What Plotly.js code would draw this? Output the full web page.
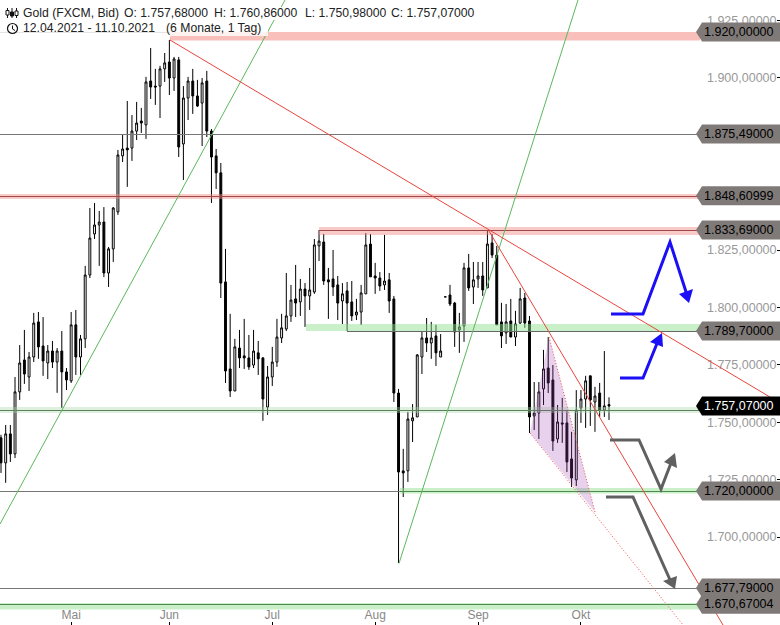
<!DOCTYPE html>
<html><head><meta charset="utf-8">
<script src="https://cdn.plot.ly/plotly-3.0.1.min.js"></script>
<style>html,body{margin:0;padding:0;background:#fff;overflow:hidden}</style>
</head><body><div id="chart" style="width:780px;height:625px"></div>
<script>
const highs=[1744.5,1748.8,1748.8,1769.7,1783.6,1790.2,1780.6,1797.6,1798.0,1795.8,1783.6,1785.4,1782.3,1789.7,1773.6,1798.0,1798.9,1788.0,1818.1,1843.3,1845.5,1842.0,1843.7,1826.3,1843.7,1868.6,1875.1,1889.9,1883.8,1889.5,1886.9,1900.4,1913.0,1903.9,1905.2,1910.8,1916.5,1909.1,1909.1,1896.4,1900.4,1903.9,1899.1,1899.9,1903.0,1877.7,1869.0,1862.9,1825.5,1797.2,1786.3,1790.2,1795.0,1788.0,1790.2,1785.4,1778.4,1774.5,1782.8,1795.0,1797.2,1815.0,1809.8,1818.5,1812.4,1810.6,1817.2,1829.8,1833.7,1832.0,1817.2,1825.0,1813.7,1810.6,1811.1,1811.5,1803.7,1809.8,1832.4,1832.0,1819.4,1815.4,1831.6,1815.0,1805.0,1764.5,1738.4,1754.5,1757.9,1779.7,1789.3,1795.4,1793.7,1792.4,1788.4,1804.6,1809.8,1802.4,1797.6,1819.4,1823.3,1819.8,1819.8,1819.8,1833.7,1832.0,1826.8,1802.0,1801.5,1803.7,1798.5,1808.5,1806.3,1796.3,1767.5,1767.5,1781.5,1787.1,1774.9,1757.5,1760.6,1755.3,1745.8,1764.0,1764.0,1770.2,1770.2,1765.4,1767.1,1781.0,1760.86];
const opens=[1743.2,1732.3,1744.9,1736.2,1763.2,1777.1,1769.7,1778.4,1793.7,1783.2,1775.8,1781.0,1776.2,1781.0,1771.9,1768.0,1792.4,1778.4,1786.3,1814.1,1832.0,1835.9,1837.2,1815.0,1825.5,1841.6,1866.0,1869.4,1869.4,1876.8,1881.2,1879.5,1898.6,1896.4,1896.4,1903.9,1906.9,1899.9,1907.8,1871.2,1891.2,1898.6,1892.1,1889.0,1898.6,1876.8,1866.0,1858.6,1811.1,1773.2,1763.6,1782.3,1778.9,1778.0,1774.9,1780.2,1778.0,1756.6,1769.7,1776.2,1786.7,1790.6,1796.3,1803.7,1802.4,1808.0,1805.0,1806.7,1826.8,1828.5,1812.0,1812.4,1809.8,1802.8,1807.2,1802.4,1796.7,1798.0,1805.9,1827.6,1813.7,1812.8,1809.8,1812.0,1803.7,1762.7,1728.8,1728.8,1750.6,1752.3,1778.4,1786.7,1784.5,1787.6,1778.4,1804.6,1805.4,1801.9,1790.2,1791.9,1817.2,1808.9,1812.4,1813.7,1808.5,1828.1,1822.8,1793.7,1788.9,1794.1,1787.1,1793.2,1804.1,1794.1,1752.7,1754.0,1764.5,1773.6,1768.4,1742.7,1749.7,1749.7,1734.0,1724.9,1756.2,1760.1,1770.2,1758.8,1762.7,1755.3,1757.68];
const lows=[1727.9,1723.6,1732.7,1734.4,1759.7,1766.7,1763.6,1776.2,1777.6,1770.2,1768.8,1773.6,1762.8,1756.2,1764.0,1767.1,1770.6,1770.6,1782.3,1812.8,1829.8,1818.1,1813.2,1808.9,1819.8,1840.3,1863.3,1852.5,1863.8,1872.9,1876.0,1873.4,1890.8,1888.2,1882.5,1898.2,1892.5,1894.3,1865.5,1855.5,1881.6,1884.3,1887.3,1870.3,1874.2,1845.5,1851.6,1804.1,1767.1,1761.0,1763.6,1773.6,1773.2,1772.8,1773.6,1770.6,1750.6,1753.2,1765.8,1774.1,1784.5,1789.7,1793.7,1795.8,1796.3,1791.5,1798.9,1805.9,1820.2,1809.8,1795.0,1805.0,1794.5,1792.8,1789.7,1794.1,1794.5,1792.4,1805.9,1813.3,1805.9,1807.2,1807.6,1797.6,1758.8,1688.7,1717.4,1724.0,1741.4,1752.3,1771.0,1780.6,1777.6,1774.5,1778.4,1804.6,1800.6,1782.8,1780.2,1785.0,1807.2,1801.5,1808.5,1805.0,1808.5,1821.5,1792.4,1782.3,1784.1,1787.1,1783.2,1792.8,1791.1,1745.3,1746.6,1742.7,1757.5,1762.7,1737.5,1741.0,1741.0,1728.3,1721.8,1722.2,1749.7,1747.5,1748.4,1745.8,1752.3,1752.3,1750.98];
const closes=[1732.3,1744.9,1736.2,1763.2,1775.8,1771.0,1778.4,1793.2,1782.8,1776.7,1781.0,1776.2,1781.0,1771.9,1768.4,1792.4,1778.4,1786.3,1814.1,1830.2,1835.9,1837.2,1815.0,1825.5,1843.3,1866.4,1869.0,1868.6,1876.8,1880.3,1880.3,1898.2,1896.0,1896.0,1903.9,1906.5,1899.9,1908.2,1869.9,1891.2,1898.6,1892.1,1887.7,1897.8,1876.8,1865.5,1858.6,1810.6,1772.3,1763.6,1782.8,1778.0,1778.0,1774.1,1781.0,1777.6,1760.1,1769.7,1776.2,1787.1,1791.1,1796.3,1803.2,1801.9,1808.0,1805.0,1807.6,1827.2,1828.9,1811.5,1811.1,1808.9,1801.9,1805.9,1801.9,1796.3,1798.0,1806.3,1827.2,1813.3,1812.8,1809.3,1811.5,1802.8,1762.7,1728.3,1727.9,1751.4,1751.9,1779.3,1786.7,1784.5,1786.7,1780.2,1781.0,1804.6,1801.5,1789.3,1791.5,1817.2,1808.5,1812.0,1813.7,1807.6,1827.6,1822.8,1792.4,1787.6,1793.7,1787.1,1792.8,1803.7,1793.2,1752.3,1754.0,1763.2,1773.2,1767.1,1741.8,1750.1,1749.2,1732.7,1725.7,1755.3,1760.1,1768.0,1759.7,1761.4,1755.3,1757.1,1757.07];

const monthIndex=[15,36,58,80,102,124];
const monthLabels=["Mai","Jun","Jul","Aug","Sep","Okt"];
const priceTicks=[1925,1900,1825,1800,1775,1750,1725,1700];
const tagLevels=[1920,1875.49,1848.60999,1833.69,1789.7,1720,1677.79,1670.67004,1757.07];

const fmt=v=>{const s=v.toFixed(5).replace('.',',');const p=s.split(',');
  return p[0].replace(/\B(?=(\d{3})+$)/g,'.')+','+p[1];};
const W=780,H=625,STEP=4.677,PXU=2.296,TOP=1933.89;
const X=p=>(p-1)/STEP, Y=p=>TOP-p/PXU, PX=p=>p/W, PY=p=>1-p/H;

const shapes=[];
const dataRect=(x0,x1,y0,y1,fill,op)=>shapes.push({type:'rect',layer:'above',xref:'paper',yref:'paper',x0:PX(x0),x1:PX(x1),y0:PY(y0),y1:PY(y1),fillcolor:fill,opacity:op===undefined?1:op,line:{width:0}});
const seg=(pts,color,w,dash,op)=>shapes.push({type:'path',layer:'above',xref:'x',yref:'y',
  path:pts.map((p,i)=>(i?'L':'M')+X(p[0])+','+Y(p[1])).join(' '),line:{color:color,width:w,dash:dash||'solid'},opacity:op===undefined?1:op});
const poly=(pts,fill,op,lineCol,lw,dash)=>shapes.push({type:'path',layer:'above',xref:'x',yref:'y',
  path:pts.map((p,i)=>(i?'L':'M')+X(p[0])+','+Y(p[1])).join(' ')+' Z',fillcolor:fill,opacity:op===undefined?1:op,line:lineCol?{color:lineCol,width:lw,dash:dash||'solid'}:{width:0}});

// translucent bands so that the candles stay visible beneath them
dataRect(170,700,32,40.5,'#f48a84',0.55);
dataRect(0,700,194,199,'#f08a84',0.45);
dataRect(319,700,227,235,'#f08a84',0.45);
dataRect(306,700,324,331,'#8fdf8f',0.48);
dataRect(0,700,407,413,'#a8d8a8',0.38);
dataRect(400,700,488,493.5,'#8fdf8f',0.48);
dataRect(0,700,603,609.5,'#8fdf8f',0.48);
// level lines
seg([[0,32.5],[170,32.5]],'#777',1);
seg([[0,134.5],[700,134.5]],'#777',1);
seg([[0,196.5],[700,196.5]],'#a04848',1);
seg([[319,230.5],[700,230.5]],'#a04848',1);
seg([[347,331.5],[700,331.5]],'#666',1);
seg([[0,410.5],[700,410.5]],'#5f7f5f',1);
seg([[0,491.5],[400,491.5]],'#777',1);
seg([[400,491.5],[700,491.5]],'#4f8a4f',1);
seg([[0,588.5],[700,588.5]],'#777',1);
seg([[0,604.5],[700,604.5]],'#4f8a4f',1);
// trend lines
seg([[0,524],[285,0]],'#5cb85c',1);
seg([[399,563.5],[578,0]],'#5cb85c',1);
seg([[170,40],[780,403]],'#e8453c',1);
seg([[489,231],[723,625]],'#e8453c',1);
// triangle
poly([[530,433],[549,337],[595,512]],'#a040b0',0.24);
seg([[530,433],[683,625]],'#f05050',1,'1px,2px');
seg([[549,337],[595,512]],'#f05050',1,'1px,2px');
// arrows
seg([[611,314],[643,314],[670,242],[688,298]],'#1a0ff5',3);
poly([[689,303],[679,294],[693,289]],'#1a0ff5');
seg([[620,378],[643,378],[658,341]],'#1a0ff5',3);
poly([[662,333],[650,342],[663,347]],'#1a0ff5');
seg([[610,440],[639,440],[661,489],[671,463]],'#606060',3);
poly([[675,453],[664,462],[677,468]],'#606060');
seg([[606,497],[633,497],[671,582]],'#606060',3);
poly([[675,589],[663,581],[677,576]],'#606060');
// header veil
dataRect(0,480,7,20,'#fff',0.85);
dataRect(0,268,20,36,'#fff',0.8);
// header icons
const pathPx=(d,color,w,fill)=>shapes.push({type:'path',layer:'above',xref:'paper',yref:'paper',
  path:d.replace(/(-?[\d.]+),(-?[\d.]+)/g,(m,a,b)=>PX(+a)+','+PY(+b)),line:{color:color,width:w},fillcolor:fill||'rgba(0,0,0,0)'});
pathPx('M7.5,8 L7.5,18 M12,8 L12,18 M16.5,8 L16.5,18','#111',1);
pathPx('M6,10.5 L9,10.5 L9,15 L6,15 Z','#111',1,'#fff');
pathPx('M10.5,12 L13.5,12 L13.5,16 L10.5,16 Z','#111',1,'#111');
pathPx('M15,11 L18,11 L18,15.5 L15,15.5 Z','#111',1,'#fff');
shapes.push({type:'circle',layer:'above',xref:'paper',yref:'paper',x0:PX(7.5),x1:PX(17.5),y0:PY(23.5),y1:PY(33.5),line:{color:'#111',width:1.2},fillcolor:'rgba(0,0,0,0)'});
pathPx('M12.5,25.5 L12.5,29 L15,30.5','#111',1);
// price tags
const TAG_H=9.5/PXU;
tagLevels.forEach(v=>{
  const last=v===1757.07;
  shapes.push({type:'path',layer:'above',xref:'paper',yref:'y',
    path:`M${PX(696)},${v} L${PX(702)},${v+TAG_H} L1,${v+TAG_H} L1,${v-TAG_H} L${PX(702)},${v-TAG_H} Z`,
    fillcolor:last?'#000':'#7f7a78',line:{width:0}});
});
const FONT='Liberation Sans, Arial, sans-serif';
const annotations=tagLevels.map(v=>({xref:'paper',yref:'y',x:PX(775.5),y:v,xanchor:'right',yanchor:'middle',showarrow:false,
  text:fmt(v),font:{family:FONT,size:12.5,color:v===1757.07?'#fff':'#000'}}));
const hdr=(px,py,t)=>annotations.push({xref:'paper',yref:'paper',x:PX(px),y:PY(py),xanchor:'left',yanchor:'middle',showarrow:false,text:t,font:{family:FONT,size:12.2,color:'#222'}});
hdr(21,13,'Gold (FXCM, Bid)');
hdr(122,13,'O: '+fmt(opens[130]));
hdr(212,13,'H: '+fmt(highs[130]));
hdr(303,13,'L: '+fmt(lows[130]));
hdr(389,13,'C: '+fmt(closes[130]));
hdr(21,28.5,'12.04.2021 - 11.10.2021');
hdr(164,28.5,'(6 Monate, 1 Tag)');

const trace={type:'candlestick',x:highs.map((_,i)=>i),open:opens,high:highs,low:lows,close:closes,
  whiskerwidth:0,hoverinfo:'skip',
  increasing:{line:{color:'#000',width:1},fillcolor:'#fff'},
  decreasing:{line:{color:'#000',width:1},fillcolor:'#000'}};
const layout={width:W,height:H,margin:{l:0,r:0,t:0,b:0,pad:0},paper_bgcolor:'#fff',plot_bgcolor:'#fff',showlegend:false,boxgap:0.42,
  xaxis:{range:[X(0),X(780)],rangeslider:{visible:false},showgrid:false,zeroline:false,showline:false,
    tickmode:'array',tickvals:monthIndex,ticktext:monthLabels,ticks:'inside',ticklen:3,tickcolor:'#000',
    ticklabelposition:'inside',tickfont:{family:FONT,size:12,color:'#888'}},
  yaxis:{range:[Y(625),Y(0)],side:'right',showgrid:false,zeroline:false,showline:false,
    tickmode:'array',tickvals:priceTicks,ticktext:priceTicks.map(fmt),ticks:'inside',ticklen:3,tickcolor:'#000',
    ticklabelposition:'inside',tickfont:{family:FONT,size:12.5,color:'#999'}},
  shapes:shapes,annotations:annotations};
Plotly.newPlot('chart',[trace],layout,{staticPlot:true,displayModeBar:false});
</script></body></html>
